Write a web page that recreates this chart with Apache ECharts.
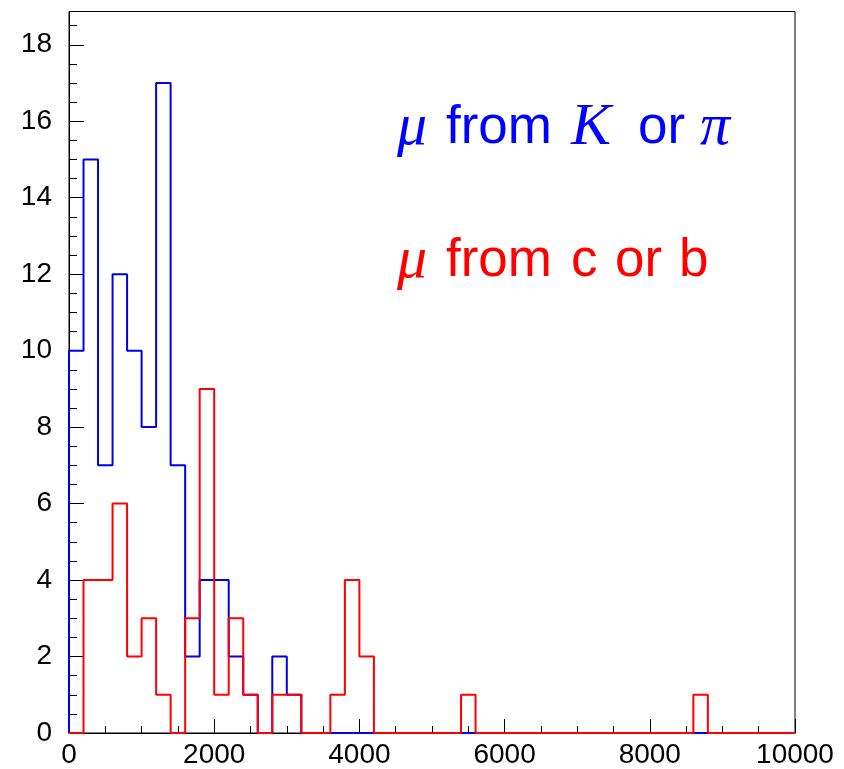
<!DOCTYPE html>
<html>
<head>
<meta charset="utf-8">
<script src="https://cdn.jsdelivr.net/npm/echarts@6/dist/echarts.min.js"></script>
<style>
html,body{margin:0;padding:0;background:#fff;}
#chart{width:844px;height:769px;}
</style>
</head>
<body>
<div id="chart"></div>
<script>
// Histogram: 50 bins of width 200 over [0, 10000]
const xMin = 0;
const binWidth = 200;
const blueCounts = [10,15,7,12,10,8,17,7,2,4, 4,2,1,0,2,1,0,0,0,0,
                    0,0,0,0,0,0,0,0,0,0, 0,0,0,0,0,0,0,0,0,0,
                    0,0,0,0,0,0,0,0,0,0];
const redCounts  = [0,4,4,6,2,3,1,0,3,9, 1,3,1,0,1,1,0,0,1,4,
                    2,0,0,0,0,0,0,1,0,0, 0,0,0,0,0,0,0,0,0,0,
                    0,0,0,1,0,0,0,0,0,0];
const xTicks = [0, 2000, 4000, 6000, 8000, 10000];
const yTicks = [0, 2, 4, 6, 8, 10, 12, 14, 16, 18];
const yMax = 18.87;
const xMax = 10000;

function outline(counts) {
  const pts = [[xMin, 0]];
  counts.forEach((c, i) => pts.push([xMin + i * binWidth, c]));
  pts.push([xMin + counts.length * binWidth, counts[counts.length - 1]]);
  return pts;
}

const chart = echarts.init(document.getElementById('chart'), null, {renderer: 'canvas'});
const labelFont = {fontFamily: 'Liberation Sans', fontSize: 28, color: '#000'};

function word(txt, x, y, color, math) {
  return {
    type: 'text', x: x, y: math ? y - 3.5 : y,
    style: {
      text: txt, fill: color, verticalAlign: 'top',
      font: math ? 'italic 60px "Liberation Serif"' : '53px "Liberation Sans"'
    }
  };
}
const BLUE = '#0000ff', RED = '#ff0000';
const by = 102, ry = 235;

chart.setOption({
  animation: false,
  backgroundColor: '#fff',
  grid: {left: 69, right: 49, top: 11.5, bottom: 32, show: true, borderColor: '#000', borderWidth: 1, backgroundColor: 'transparent'},
  xAxis: [{
    type: 'value', min: xMin, max: xMax, interval: 2000,
    axisLine: {show: true, onZero: false, lineStyle: {color: '#000', width: 1}},
    axisTick: {show: true, inside: true, length: 14, lineStyle: {color: '#000'}},
    minorTick: {show: true, splitNumber: 4, length: 7, lineStyle: {color: '#000'}},
    splitLine: {show: false},
    axisLabel: Object.assign({margin: 8, formatter: v => xTicks.includes(v) ? String(v) : ''}, labelFont)
  }],
  yAxis: [{
    type: 'value', min: 0, max: yMax, interval: 2, position: 'left',
    axisLine: {show: true, onZero: false, lineStyle: {color: '#000', width: 1}},
    axisTick: {show: true, inside: true, length: 15, lineStyle: {color: '#000'}},
    splitLine: {show: false},
    axisLabel: Object.assign({margin: 17, showMaxLabel: false, formatter: v => yTicks.includes(v) ? String(v) : ''}, labelFont)
  }, {
    type: 'value', min: 0, max: yMax, interval: 0.5, position: 'left', offset: 0,
    axisLine: {show: false},
    axisTick: {show: true, inside: true, length: 8, lineStyle: {color: '#000'}},
    splitLine: {show: false},
    axisLabel: {show: false}
  }],
  series: [{
    type: 'line', step: 'end', symbol: 'none', yAxisIndex: 0,
    data: outline(blueCounts),
    lineStyle: {color: '#0000e8', width: 2}
  }, {
    type: 'line', step: 'end', symbol: 'none', yAxisIndex: 0,
    data: outline(redCounts),
    lineStyle: {color: '#ff0000', width: 2}
  }],
  graphic: [
    word('μ', 397, by, BLUE, true),
    word('from', 446, by, BLUE, false),
    word('K', 571, by, BLUE, true),
    word('or', 638, by, BLUE, false),
    word('π', 700, by, BLUE, true),
    word('μ', 397, ry, RED, true),
    word('from', 446, ry, RED, false),
    word('c', 571, ry, RED, false),
    word('or', 615, ry, RED, false),
    word('b', 679, ry, RED, false)
  ]
});
</script>
</body>
</html>
